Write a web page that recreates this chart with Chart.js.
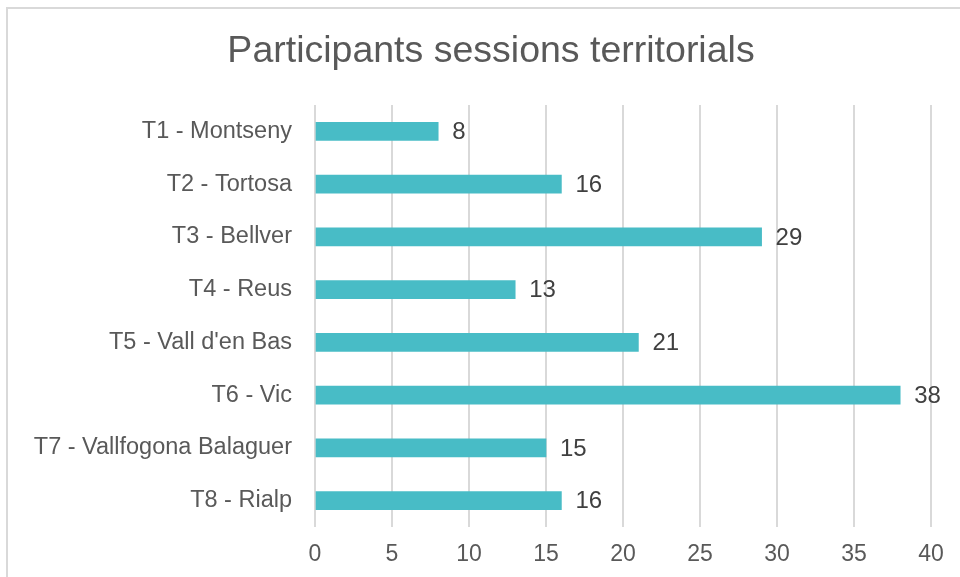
<!DOCTYPE html>
<html>
<head>
<meta charset="utf-8">
<script src="https://cdn.jsdelivr.net/npm/chart.js@4"></script>
<style>
  html, body { margin: 0; padding: 0; background: #fff; overflow: hidden; }
  #frame { position: absolute; left: 6px; top: 7px; width: 1000px; height: 620px; border: 2px solid #d9d9d9; box-sizing: border-box; }
  #wrap { position: absolute; left: 0; top: 0; width: 960px; height: 577px; }
</style>
</head>
<body>
<div id="frame"></div>
<div id="wrap"><canvas id="c" width="960" height="577"></canvas></div>
<script>
const categories = ["T1 - Montseny", "T2 - Tortosa", "T3 - Bellver", "T4 - Reus", "T5 - Vall d'en Bas", "T6 - Vic", "T7 - Vallfogona Balaguer", "T8 - Rialp"];
const participants = [8, 16, 29, 13, 21, 38, 15, 16];
const titleText = "Participants sessions territorials";

const FONT = "'Liberation Sans', Arial, sans-serif";

const valueLabels = {
  id: 'valueLabels',
  afterDatasetsDraw(chart) {
    const ctx = chart.ctx;
    const meta = chart.getDatasetMeta(0);
    ctx.save();
    ctx.font = "24px " + FONT;
    ctx.fillStyle = "#404040";
    ctx.textAlign = "left";
    ctx.textBaseline = "middle";
    meta.data.forEach((bar, i) => {
      ctx.fillText(String(chart.data.datasets[0].data[i]), bar.x + 14, bar.y + 1);
    });
    ctx.restore();
  }
};

const chartTitle = {
  id: 'chartTitle',
  afterDraw(chart) {
    const ctx = chart.ctx;
    ctx.save();
    ctx.font = "37.5px " + FONT;
    ctx.fillStyle = "#595959";
    ctx.textAlign = "center";
    ctx.textBaseline = "alphabetic";
    ctx.fillText(titleText, 491, 62);
    ctx.restore();
  }
};

new Chart(document.getElementById('c'), {
  type: 'bar',
  data: {
    labels: categories,
    datasets: [{
      data: participants,
      backgroundColor: '#48BCC6',
      borderWidth: 0,
      barThickness: 18
    }]
  },
  options: {
    indexAxis: 'y',
    responsive: false,
    animation: false,
    layout: { padding: { left: 0, right: 29, top: 105, bottom: 0 } },
    plugins: {
      legend: { display: false },
      tooltip: { enabled: false },
      title: { display: false }
    },
    scales: {
      x: {
        min: 0, max: 40,
        ticks: { stepSize: 5, color: '#595959', font: { family: FONT, size: 23 }, padding: 14 },
        grid: { color: '#d9d9d9', lineWidth: 2, drawTicks: false },
        border: { display: false },
        afterFit: s => { s.height = 50; }
      },
      y: {
        ticks: { color: '#595959', font: { family: FONT, size: 23.5 }, padding: 23 },
        grid: { display: false, drawTicks: false },
        border: { display: false },
        afterFit: s => { s.width = 315; }
      }
    }
  },
  plugins: [valueLabels, chartTitle]
});
</script>
</body>
</html>
